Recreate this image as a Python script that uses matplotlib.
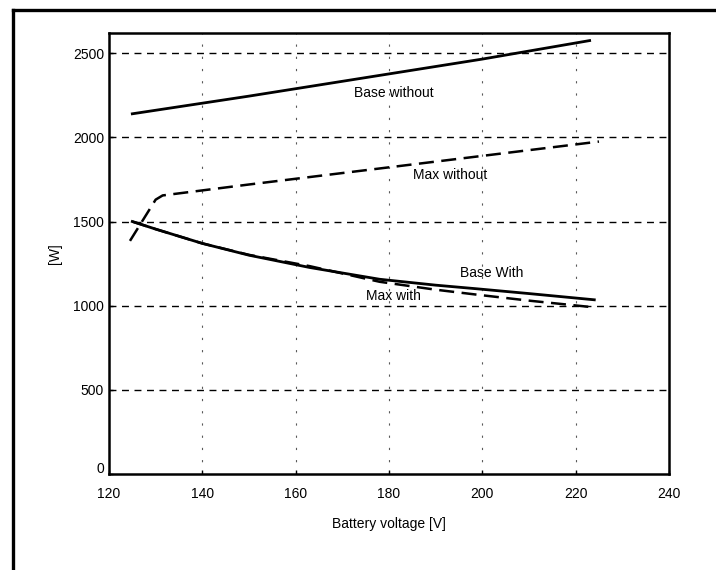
import matplotlib
matplotlib.use("Agg")
import matplotlib.pyplot as plt
from matplotlib.lines import Line2D
import matplotlib.transforms as mtransforms

plt.rcParams['font.family'] = ['Liberation Sans', 'DejaVu Sans']

# power limits vs battery voltage
volt_base_without = [125, 150, 175, 200, 223]
base_without = [2140, 2245, 2355, 2465, 2575]

volt_max_without = [124.5, 130, 131.5, 150, 175, 200, 225]
max_without = [1385, 1630, 1655, 1720, 1805, 1890, 1975]

volt_with = [125, 130, 140, 150, 163, 178, 190, 199, 210, 224]
base_with = [1500, 1455, 1370, 1300, 1227, 1157, 1122, 1100, 1072, 1035]
max_with = [1500, 1455, 1370, 1302, 1235, 1142, 1095, 1065, 1030, 990]

xticks = [120, 140, 160, 180, 200, 220, 240]
yticks = [0, 500, 1000, 1500, 2000, 2500]

fig = plt.figure(figsize=(7.16, 5.70), dpi=100)
ax = fig.add_axes([0.1522, 0.1684, 0.7821, 0.7737])

for y in yticks[1:]:
    ax.axhline(y, color='black', lw=1.0, ls=(0, (5, 4)), zorder=1)
for x in xticks[1:-1]:
    ax.axvline(x, color='0.35', lw=0.8, ls=(0, (2, 9)), zorder=1)

ax.plot(volt_base_without, base_without, color='black', lw=2.0)
ax.plot(volt_max_without, max_without, color='black', lw=1.8, ls=(0, (6, 3)))
ax.plot(volt_with, base_with, color='black', lw=2.0)
ax.plot(volt_with, max_with, color='black', lw=1.8, ls=(0, (6, 3)))

ax.text(181, 2262, 'Base without', fontsize=10, ha='center', va='center')
ax.text(193, 1775, 'Max without', fontsize=10, ha='center', va='center')
ax.text(202, 1193, 'Base With', fontsize=10, ha='center', va='center')
ax.text(181, 1057, 'Max with', fontsize=10, ha='center', va='center')

ax.set_xlim(120, 240)
ax.set_ylim(0, 2620)
ax.set_xticks(xticks)
ax.set_yticks(yticks)
ax.tick_params(direction='in', length=3, labelsize=10, width=1)
ax.tick_params(axis='x', pad=9)
ax.set_xlabel('Battery voltage [V]', fontsize=10, labelpad=12)
ax.set_ylabel('[W]', fontsize=10, labelpad=8)
for s in ax.spines.values():
    s.set_linewidth(1.8)

# lift the "0" label off the corner
lift = mtransforms.ScaledTranslation(0, 7 / 100, fig.dpi_scale_trans)
zero = ax.get_yticklabels()[0]
zero.set_transform(zero.get_transform() + lift)

# outer frame (left and top edges)
fig.add_artist(Line2D([13 / 716, 13 / 716], [0, 1 - 10 / 570], transform=fig.transFigure, color='black', lw=2.4))
fig.add_artist(Line2D([13 / 716, 1], [1 - 10 / 570, 1 - 10 / 570], transform=fig.transFigure, color='black', lw=2.4))

fig.savefig('out.png', dpi=100)
